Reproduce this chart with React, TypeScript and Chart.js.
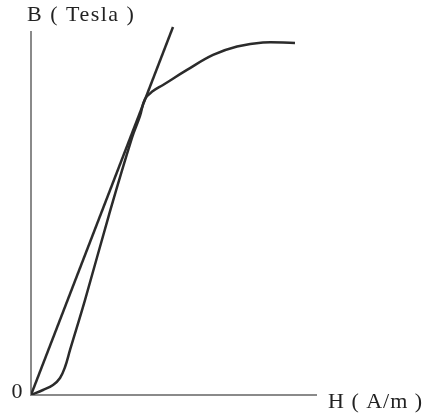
import React, { useEffect, useRef } from "react";
import { Chart, registerables } from "chart.js";

Chart.register(...registerables);

// Magnetisation (B-H) curve, sampled along the field strength H
const curveH = [0, 84, 154, 203, 238, 273, 378, 545, 706, 762, 797, 853, 923, 1091, 1273, 1441, 1622, 1846];
const curveB = [0, 0.022, 0.044, 0.075, 0.123, 0.198, 0.418, 0.791, 1.13, 1.226, 1.301, 1.336, 1.363, 1.429, 1.495, 1.532, 1.55, 1.547];

// Straight line from the origin through the knee of the curve
const tangentH = [0, 993];
const tangentB = [0, 1.618];

// Axis extents and labels
const H_AXIS_END = 2000;
const B_AXIS_END = 1.6;
const yAxisTitle = "B ( Tesla )";
const xAxisTitle = "H ( A/m )";
const originLabel = "0";

const axesAndLabels = {
  id: "axesAndLabels",
  beforeDatasetsDraw(chart: any) {
    const { ctx, scales } = chart;
    const x = scales.x;
    const y = scales.y;
    const x0 = x.getPixelForValue(0);
    const y0 = y.getPixelForValue(0);
    const xEnd = x.getPixelForValue(H_AXIS_END);
    const yEnd = y.getPixelForValue(B_AXIS_END);
    ctx.save();
    ctx.strokeStyle = "#8a8a8a";
    ctx.lineWidth = 2;
    ctx.beginPath();
    ctx.moveTo(x0, yEnd);
    ctx.lineTo(x0, y0);
    ctx.lineTo(xEnd, y0);
    ctx.stroke();

    ctx.fillStyle = "#222";
    ctx.font = '22px "Liberation Serif", "DejaVu Serif", serif';
    ctx.textBaseline = "alphabetic";
    ctx.textAlign = "left";
    (ctx as any).letterSpacing = "1.5px";
    ctx.fillText(yAxisTitle, x0 - 4, yEnd - 10);
    (ctx as any).letterSpacing = "1px";
    ctx.fillText(xAxisTitle, xEnd + 11, y0 + 13);
    (ctx as any).letterSpacing = "0px";
    ctx.textAlign = "center";
    ctx.fillText(originLabel, x0 - 14, y0 + 3);
    ctx.restore();
  },
};

export default function App() {
  const canvasRef = useRef<HTMLCanvasElement | null>(null);

  useEffect(() => {
    if (!canvasRef.current) return;
    const chart = new Chart(canvasRef.current, {
      type: "line",
      data: {
        datasets: [
          {
            data: curveH.map((h, i) => ({ x: h, y: curveB[i] })),
            borderColor: "#2b2b2b",
            borderWidth: 2.5,
            pointRadius: 0,
            tension: 0.4,
            fill: false,
          },
          {
            data: tangentH.map((h, i) => ({ x: h, y: tangentB[i] })),
            borderColor: "#2b2b2b",
            borderWidth: 2.5,
            pointRadius: 0,
            tension: 0,
            fill: false,
          },
        ],
      },
      options: {
        responsive: false,
        animation: false,
        layout: { padding: { left: 31, right: 108, top: 8.3, bottom: 19 } },
        plugins: {
          legend: { display: false },
          tooltip: { enabled: false },
          title: { display: false },
        },
        scales: {
          x: { type: "linear", min: 0, max: H_AXIS_END, display: false },
          y: { type: "linear", min: 0, max: 1.7, display: false },
        },
      },
      plugins: [axesAndLabels],
    });
    return () => chart.destroy();
  }, []);

  return (
    <div style={{ position: "fixed", left: 0, top: 0, width: 425, height: 414, background: "#fff" }}>
      <canvas ref={canvasRef} width={425} height={414} style={{ display: "block" }} />
    </div>
  );
}
